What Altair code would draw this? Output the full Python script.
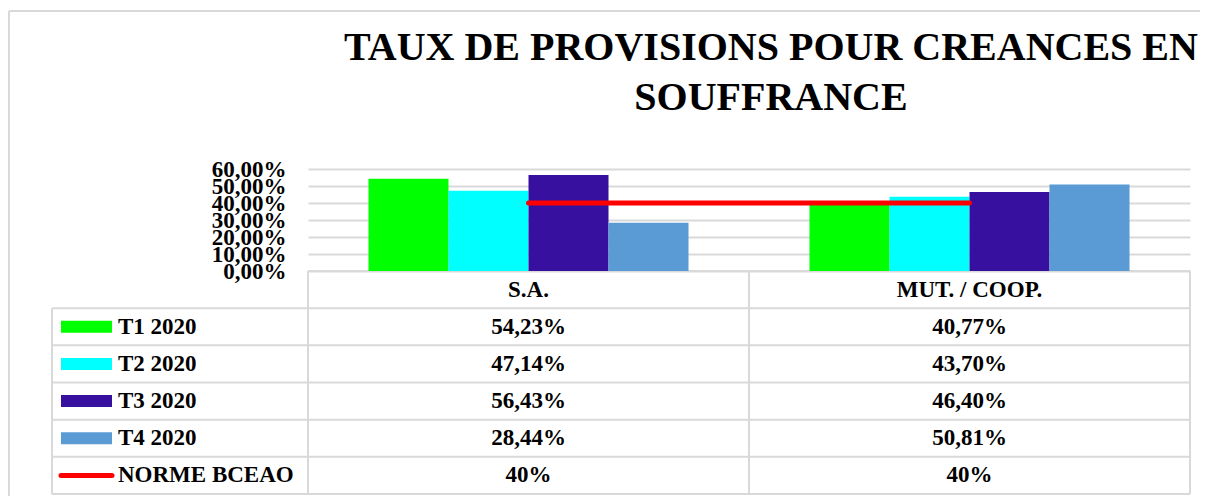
import altair as alt
import pandas as pd

# ---------------- data ----------------
categories = ["S.A.", "MUT. / COOP."]
series = ["T1 2020", "T2 2020", "T3 2020", "T4 2020"]
t1_2020 = [54.23, 40.77]
t2_2020 = [47.14, 43.70]
t3_2020 = [56.43, 46.40]
t4_2020 = [28.44, 50.81]
norme_label = "NORME BCEAO"
norme_bceao = [40, 40]
y_ticks = [0, 10, 20, 30, 40, 50, 60]
title_lines = ["TAUX DE PROVISIONS POUR CREANCES EN", "SOUFFRANCE"]

series_colors = ["#00ff00", "#00ffff", "#3810a0", "#5b9bd5"]
norme_color = "#ff0000"

# ---------------- layout / style ----------------
FONT = "Liberation Serif"
W, H = 882, 102
PAD = {"left": 300, "top": 161, "right": 10, "bottom": 225}
TABLE_TOP, TABLE_BOTTOM = H, 325
LEG_LEFT = -256
GRID = "#d9d9d9"

values_by_series = [t1_2020, t2_2020, t3_2020, t4_2020]
bar_df = pd.DataFrame(
    [{"series": s, "category": c, "value": v}
     for s, vals in zip(series, values_by_series)
     for c, v in zip(categories, vals)]
)
norme_df = pd.DataFrame({"category": categories, "value": norme_bceao})


def fmt(v):
    return f"{v:.2f}".replace(".", ",") + "%"


row_keys = ["header"] + series + [norme_label]
table_rows = []
for c in categories:
    table_rows.append({"row": "header", "category": c, "label": c})
for s, vals in zip(series, values_by_series):
    for c, v in zip(categories, vals):
        table_rows.append({"row": s, "category": c, "label": fmt(v)})
for c, v in zip(categories, norme_bceao):
    table_rows.append({"row": norme_label, "category": c, "label": f"{v:g}%"})
table_df = pd.DataFrame(table_rows)
rows_df = pd.DataFrame({"row": row_keys})
legend_df = pd.DataFrame({"row": series + [norme_label]})
swatch_df = pd.DataFrame({"row": series, "series": series})
cat_df = pd.DataFrame({"category": categories})
one = pd.DataFrame({"k": [0]})
title_df = pd.DataFrame({"title": ["\n".join(title_lines)]})

x_scale = alt.Scale(type="band", domain=categories, paddingInner=0, paddingOuter=0)
y_scale = alt.Scale(domain=[0, 60], nice=False, zero=True)
ty_scale = alt.Scale(type="band", domain=row_keys, range=[TABLE_TOP, TABLE_BOTTOM],
                     paddingInner=0, paddingOuter=0)
color_scale = alt.Scale(domain=series, range=series_colors)

# frame lines of the whole figure
frame_left = alt.Chart(one).mark_rule(color=GRID, strokeWidth=2).encode(
    x=alt.value(-299), y=alt.value(-158), y2=alt.value(TABLE_BOTTOM + 10))
frame_top = alt.Chart(one).mark_rule(color=GRID, strokeWidth=2).encode(
    x=alt.value(-299), x2=alt.value(W + 10), y=alt.value(-158))

title = alt.Chart(title_df).mark_text(
    font=FONT, fontSize=40, fontWeight="bold", color="black", align="center",
    baseline="alphabetic", lineBreak="\n", lineHeight=50
).encode(text="title:N", x=alt.value(463), y=alt.value(-109))

bars = alt.Chart(bar_df).mark_bar().encode(
    x=alt.X("category:N", scale=x_scale, axis=None),
    xOffset=alt.XOffset("series:N", scale=alt.Scale(domain=series, paddingInner=0, paddingOuter=0.756)),
    y=alt.Y("value:Q", scale=y_scale, axis=alt.Axis(
        values=y_ticks, labelExpr="replace(format(datum.value, '.2f'), '.', ',') + '%'",
        labelFont=FONT, labelFontSize=23, labelFontWeight="bold", labelColor="black",
        labelPadding=22, ticks=False, tickSize=0, domain=False, grid=True,
        gridColor=GRID, gridWidth=2, labelOverlap=False, title=None, labelBaseline="middle")),
    color=alt.Color("series:N", scale=color_scale, legend=None),
)

line = alt.Chart(norme_df).mark_line(color=norme_color, strokeWidth=5, strokeCap="round").encode(
    x=alt.X("category:N", scale=x_scale, axis=None, bandPosition=0.5),
    y=alt.Y("value:Q", scale=y_scale, axis=None),
)

# table grid
h_rows = alt.Chart(rows_df).transform_filter(alt.datum.row != "header").mark_rule(
    color=GRID, strokeWidth=2).encode(
    y=alt.Y("row:N", scale=ty_scale, axis=None, bandPosition=0),
    x=alt.value(LEG_LEFT), x2=alt.value(W))
h_head = alt.Chart(rows_df).transform_filter(alt.datum.row == "header").mark_rule(
    color=GRID, strokeWidth=2).encode(
    y=alt.Y("row:N", scale=ty_scale, axis=None, bandPosition=0),
    x=alt.value(0), x2=alt.value(W))
h_bottom = alt.Chart(rows_df).transform_filter(alt.datum.row == norme_label).mark_rule(
    color=GRID, strokeWidth=2).encode(
    y=alt.Y("row:N", scale=ty_scale, axis=None, bandPosition=1),
    x=alt.value(LEG_LEFT), x2=alt.value(W))
v_cats = alt.Chart(cat_df).mark_rule(color=GRID, strokeWidth=2).encode(
    x=alt.X("category:N", scale=x_scale, axis=None, bandPosition=0),
    y=alt.value(TABLE_TOP), y2=alt.value(TABLE_BOTTOM))
v_right = alt.Chart(one).mark_rule(color=GRID, strokeWidth=2).encode(
    x=alt.value(W), y=alt.value(TABLE_TOP), y2=alt.value(TABLE_BOTTOM))
v_left = alt.Chart(rows_df).transform_filter(alt.datum.row == series[0]).mark_rule(
    color=GRID, strokeWidth=2).encode(
    x=alt.value(LEG_LEFT),
    y=alt.Y("row:N", scale=ty_scale, axis=None, bandPosition=0),
    y2=alt.value(TABLE_BOTTOM))

cells = alt.Chart(table_df).mark_text(
    font=FONT, fontSize=23, fontWeight="bold", color="black", baseline="middle", align="center"
).encode(
    x=alt.X("category:N", scale=x_scale, axis=None, bandPosition=0.5),
    y=alt.Y("row:N", scale=ty_scale, axis=None, bandPosition=0.5),
    text="label:N",
)

legend_text = alt.Chart(legend_df).mark_text(
    font=FONT, fontSize=23, fontWeight="bold", color="black", baseline="middle", align="left"
).encode(
    x=alt.value(-190),
    y=alt.Y("row:N", scale=ty_scale, axis=None, bandPosition=0.5),
    text="row:N",
)

swatches = alt.Chart(swatch_df).mark_rule(strokeWidth=12, strokeCap="butt").encode(
    x=alt.value(-247), x2=alt.value(-196),
    y=alt.Y("row:N", scale=ty_scale, axis=None, bandPosition=0.5),
    color=alt.Color("series:N", scale=color_scale, legend=None),
)
norme_swatch = alt.Chart(pd.DataFrame({"row": [norme_label]})).mark_rule(
    strokeWidth=5, strokeCap="round", color=norme_color).encode(
    x=alt.value(-247), x2=alt.value(-196),
    y=alt.Y("row:N", scale=ty_scale, axis=None, bandPosition=0.5),
)

chart = alt.layer(
    frame_left, frame_top, title,
    h_rows, h_head, h_bottom, v_cats, v_right, v_left,
    bars, line, cells, legend_text, swatches, norme_swatch,
).resolve_scale(y="independent").properties(
    width=W, height=H, padding=PAD, autosize=alt.AutoSizeParams(type="none"),
    background="white",
).configure_view(stroke=None)

chart.save("out.html", embed_options={"renderer": "svg", "actions": False})
